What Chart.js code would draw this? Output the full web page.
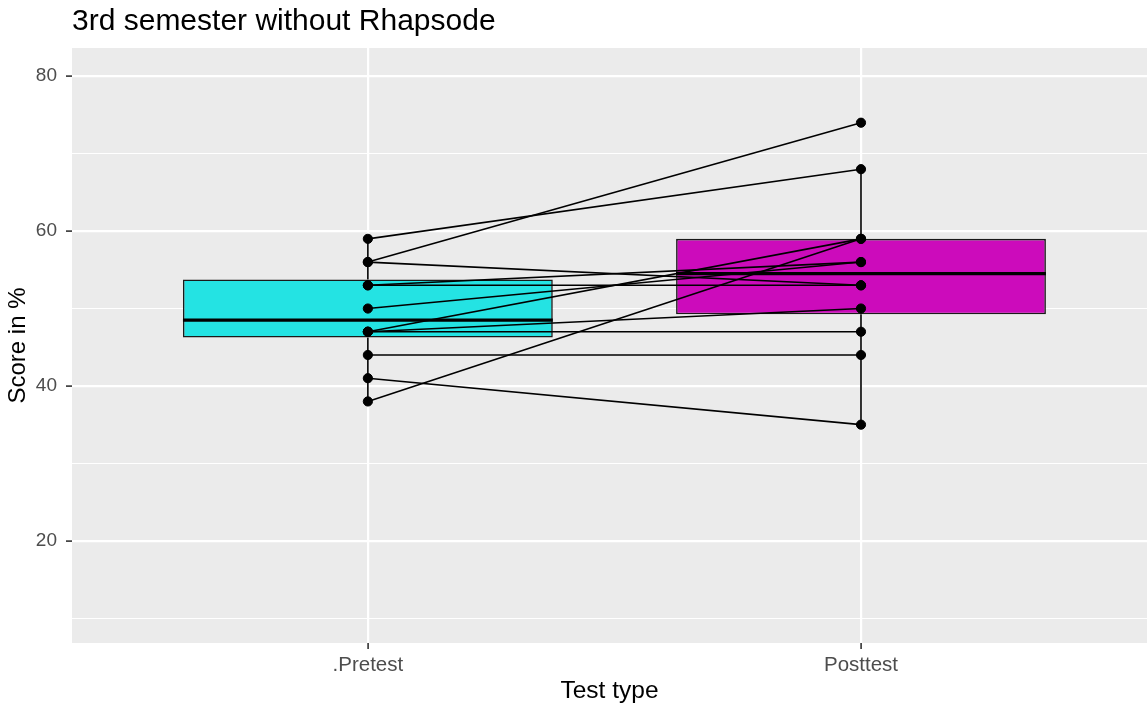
<!DOCTYPE html>
<html>
<head>
<meta charset="utf-8">
<title>3rd semester without Rhapsode</title>
<script src="https://cdn.jsdelivr.net/npm/chart.js@4.4.1/dist/chart.umd.min.js"></script>
<style>
  html, body { margin: 0; padding: 0; background: #fff; overflow: hidden; }
  #wrap { width: 1147px; height: 710px; }
</style>
</head>
<body>
<div id="wrap"><canvas id="chart"></canvas></div>
<script>
// ── Data ──────────────────────────────────────────────────────────────────────
const chartTitle = "3rd semester without Rhapsode";
const categories = [".Pretest", "Posttest"];
// one entry per student, same order in both arrays (score in %)
const pretest  = [59, 56, 56, 53, 53, 50, 47, 47, 47, 44, 41, 38];
const posttest = [68, 74, 53, 56, 53, 56, 59, 50, 47, 44, 35, 59];
const yMajor = [20, 40, 60, 80];
const yMinor = [10, 30, 50, 70];

const FONT      = "'Liberation Sans', Arial, sans-serif";
const BOX_HALF  = 0.375;
const boxFill   = ["#24E3E3", "#CC0BBB"];

// ── Box statistics (R type 7 quantiles) ───────────────────────────────────────
function quantile(arr, p) {
  const s  = [...arr].sort((a, b) => a - b);
  const h  = (s.length - 1) * p;
  const lo = Math.floor(h);
  const hi = Math.min(lo + 1, s.length - 1);
  return s[lo] + (h - lo) * (s[hi] - s[lo]);
}

function boxStats(arr) {
  const q1 = quantile(arr, 0.25), med = quantile(arr, 0.5), q3 = quantile(arr, 0.75);
  const iqr = q3 - q1;
  const inside = arr.filter(v => v >= q1 - 1.5 * iqr && v <= q3 + 1.5 * iqr);
  return { q1, med, q3, lo: Math.min(...inside), hi: Math.max(...inside) };
}

const stats = [boxStats(pretest), boxStats(posttest)];

const boxData = stats.map((s, i) => ({ x: i + 1, y: [s.q1, s.q3] }));

const whiskerData = [];
stats.forEach((s, i) => {
  const x = i + 1;
  whiskerData.push({ x, y: s.lo }, { x, y: s.q1 }, { x, y: null },
                   { x, y: s.q3 }, { x, y: s.hi }, { x, y: null });
});

const medianData = [];
stats.forEach((s, i) => {
  medianData.push({ x: i + 1 - BOX_HALF, y: s.med },
                  { x: i + 1 + BOX_HALF, y: s.med },
                  { x: i + 1, y: null });
});

const pairSets = pretest.map((v, i) => ({
  type: "line",
  data: [{ x: 1, y: v }, { x: 2, y: posttest[i] }],
  borderColor: "#000",
  borderWidth: 1.6,
  pointRadius: 0,
  order: 1
}));

const pointData = pretest.map(v => ({ x: 1, y: v }))
  .concat(posttest.map(v => ({ x: 2, y: v })));

// ── Panel background + title ──────────────────────────────────────────────────
const ggPanel = {
  id: "ggPanel",
  beforeDraw(chart) {
    const { ctx, chartArea: a } = chart;
    ctx.save();
    ctx.fillStyle = "#fff";
    ctx.fillRect(0, 0, chart.width, chart.height);
    ctx.fillStyle = "#EBEBEB";
    ctx.fillRect(a.left, a.top, a.right - a.left, a.bottom - a.top);
    ctx.restore();
  },
  afterDraw(chart) {
    const { ctx, chartArea: a } = chart;
    ctx.save();
    ctx.font = "30px " + FONT;
    ctx.fillStyle = "#000";
    ctx.textBaseline = "alphabetic";
    ctx.textAlign = "left";
    ctx.fillText(chartTitle, a.left, 30);
    ctx.restore();
  }
};

const isMajor = v => yMajor.includes(v);

new Chart(document.getElementById("chart"), {
  type: "scatter",
  data: {
    datasets: [
      {
        type: "scatter",
        data: pointData,
        backgroundColor: "#000",
        borderColor: "#000",
        pointRadius: 4.6,
        order: 0
      },
      ...pairSets,
      {
        type: "line",
        data: medianData,
        borderColor: "#000",
        borderWidth: 3.2,
        pointRadius: 0,
        spanGaps: false,
        order: 2
      },
      {
        type: "bar",
        data: boxData,
        backgroundColor: boxFill,
        borderColor: "#1A1A1A",
        borderWidth: 1.6,
        borderSkipped: false,
        barPercentage: BOX_HALF * 2,
        categoryPercentage: 1,
        order: 3
      },
      {
        type: "line",
        data: whiskerData,
        borderColor: "#000",
        borderWidth: 1.6,
        pointRadius: 0,
        spanGaps: false,
        order: 4
      }
    ]
  },
  options: {
    responsive: true,
    maintainAspectRatio: false,
    animation: false,
    layout: {
      autoPadding: false,
      padding: { top: 48, right: 0, bottom: 0, left: 0 }
    },
    plugins: {
      legend:  { display: false },
      tooltip: { enabled: false },
      title:   { display: false }
    },
    scales: {
      x: {
        type: "linear",
        min: 0.4,
        max: 2.58,
        offset: false,
        afterBuildTicks: s => { s.ticks = categories.map((c, i) => ({ value: i + 1 })); },
        afterFit: s => { s.height = 67; s.paddingLeft = 0; s.paddingRight = 0; },
        ticks: {
          callback: v => categories[v - 1] ?? "",
          color: "#4D4D4D",
          font: { family: FONT, size: 20.5 },
          padding: 4,
          maxRotation: 0,
          autoSkip: false
        },
        grid: {
          offset: false,
          color: "#FFFFFF",
          lineWidth: 2.2,
          tickColor: "#333333",
          tickLength: 6,
          tickWidth: 1.6
        },
        border: { display: false },
        title: {
          display: true,
          text: "Test type",
          color: "#000",
          font: { family: FONT, size: 24.5 },
          padding: { top: 0, bottom: 4 }
        }
      },
      y: {
        type: "linear",
        min: 6.8,
        max: 83.65,
        afterBuildTicks: s => {
          s.ticks = yMinor.concat(yMajor).sort((a, b) => a - b).map(v => ({ value: v }));
        },
        afterFit: s => { s.width = 72; },
        ticks: {
          callback: v => isMajor(v) ? String(v) : "",
          color: "#4D4D4D",
          font: { family: FONT, size: 19 },
          padding: 9
        },
        grid: {
          color: "#FFFFFF",
          lineWidth: c => isMajor(c.tick.value) ? 2.2 : 1.1,
          tickColor: c => isMajor(c.tick.value) ? "#333333" : "rgba(0,0,0,0)",
          tickLength: 6,
          tickWidth: 1.6
        },
        border: { display: false },
        title: {
          display: true,
          text: "Score in %",
          color: "#000",
          font: { family: FONT, size: 24 },
          padding: { top: 4, bottom: 0 }
        }
      }
    }
  },
  plugins: [ggPanel]
});
</script>
</body>
</html>
